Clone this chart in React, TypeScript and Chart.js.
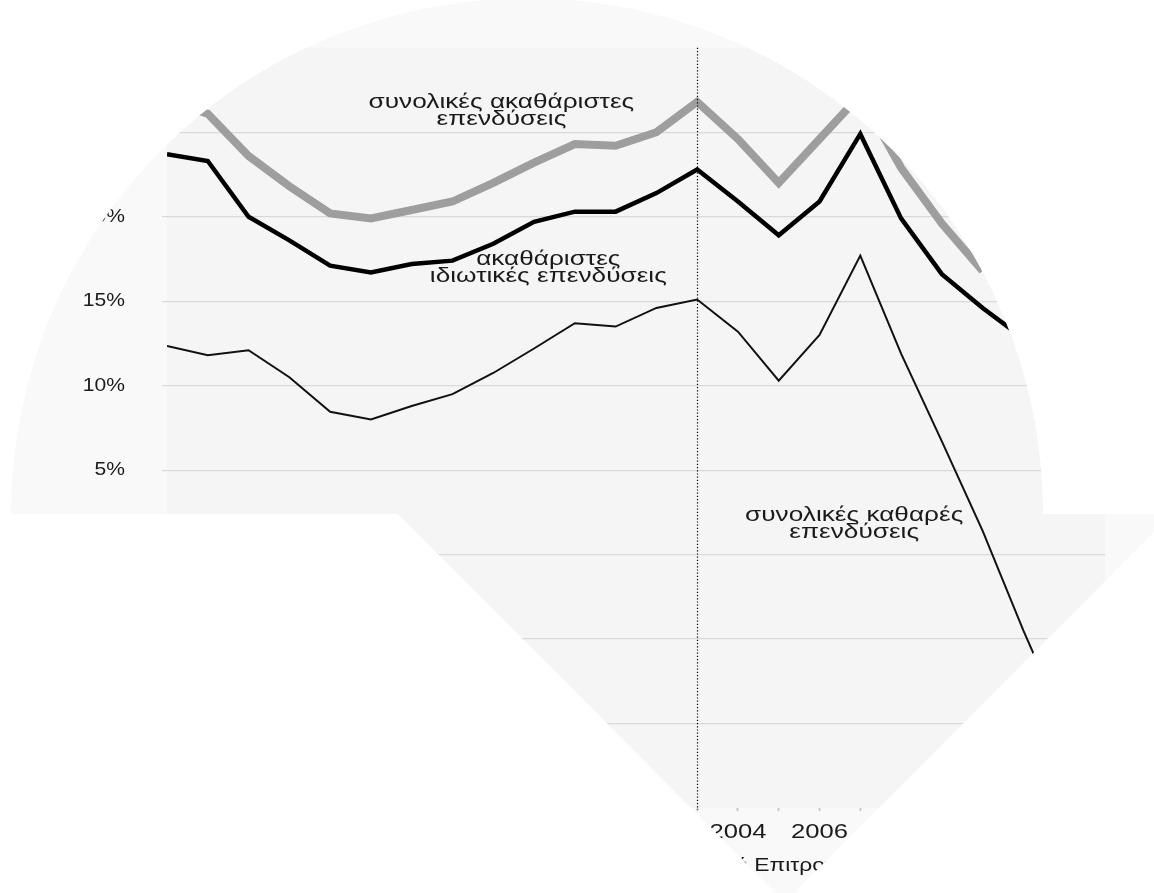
import React, { useEffect, useRef } from "react";
import { Chart, registerables } from "chart.js";

Chart.register(...registerables);

// ---- data ----
const years = [1990, 1991, 1992, 1993, 1994, 1995, 1996, 1997, 1998, 1999, 2000, 2001, 2002, 2003, 2004, 2005, 2006, 2007, 2008, 2009, 2010, 2011, 2012, 2013];
const grossTotal = [26.8, 26.1, 23.6, 21.8, 20.2, 19.9, 20.4, 20.9, 22.0, 23.2, 24.3, 24.2, 25.0, 26.8, 24.6, 22.0, 24.6, 27.2, 22.9, 19.6, 16.8, null, null, null];
const grossPrivate = [23.7, 23.3, 20.0, 18.6, 17.1, 16.7, 17.2, 17.4, 18.4, 19.7, 20.3, 20.3, 21.4, 22.8, 20.9, 18.9, 20.9, 24.9, 19.9, 16.6, 14.6, 12.8, null, null];
const netTotal = [12.35, 11.8, 12.1, 10.5, 8.45, 8.0, 8.8, 9.5, 10.75, 12.2, 13.7, 13.5, 14.6, 15.1, 13.2, 10.3, 13.0, 17.7, 11.9, 6.7, 1.4, -4.5, -10.0, null];
const seriesNames = ["συνολικές ακαθάριστες επενδύσεις", "ακαθάριστες ιδιωτικές επενδύσεις", "συνολικές καθαρές επενδύσεις"];
const yMin = -15;
const yMax = 30;
const yStep = 5;
const markerYear = 2003;
const sourceNote = ["Πηγή: Ευρωπαϊκή ", "Επιτροπή, AMECO"];

// text labels anchored in data coordinates (year, %)
const annotations = [
  { lines: ["συνολικές ακαθάριστες", "επενδύσεις"], year: 1998.2, value: 26.75 },
  { lines: ["ακαθάριστες", "ιδιωτικές επενδύσεις"], year: 1999.35, value: 17.45 },
  { lines: ["συνολικές καθαρές", "επενδύσεις"], year: 2006.85, value: 2.3 },
];

const FONT = "'Liberation Sans', Arial, Helvetica, sans-serif";
const TEXT = "#1a1a1a";

const toPoints = (vals: (number | null)[]) => years.map((y, i) => ({ x: y, y: vals[i] }));

function wideText(ctx: CanvasRenderingContext2D, text: string, x: number, y: number, size: number, align: CanvasTextAlign, sx: number) {
  ctx.save();
  ctx.font = `${size}px ${FONT}`;
  ctx.fillStyle = TEXT;
  ctx.textAlign = align;
  ctx.textBaseline = "middle";
  ctx.translate(x, y);
  ctx.scale(sx, 1);
  ctx.fillText(text, 0, 0);
  ctx.restore();
}

export default function App() {
  const ref = useRef<HTMLCanvasElement | null>(null);

  useEffect(() => {
    if (!ref.current) return;

    const bgPlugin = {
      id: "areaBg",
      beforeDraw(chart: any) {
        const { ctx, chartArea } = chart;
        ctx.save();
        ctx.fillStyle = "#f5f5f5";
        ctx.fillRect(chartArea.left, chartArea.top, chartArea.right - chartArea.left, chartArea.bottom - chartArea.top);
        ctx.restore();
      },
    };

    const overlayPlugin = {
      id: "overlay",
      afterDatasetsDraw(chart: any) {
        const { ctx, chartArea, scales } = chart;
        const xs = scales.x;
        const ys = scales.y;
        // dotted marker line
        const mx = Math.round(xs.getPixelForValue(markerYear)) + 0.5;
        ctx.save();
        ctx.strokeStyle = "#000";
        ctx.lineWidth = 1.2;
        ctx.setLineDash([1.2, 2]);
        ctx.beginPath();
        ctx.moveTo(mx, chartArea.top);
        ctx.lineTo(mx, chartArea.bottom + 2);
        ctx.stroke();
        ctx.restore();

        // annotations
        annotations.forEach((a) => {
          const cx = xs.getPixelForValue(a.year);
          const cy = ys.getPixelForValue(a.value);
          a.lines.forEach((t, i) => wideText(ctx, t, cx, cy + i * 17, 20, "center", 1.31));
        });
      },
      afterDraw(chart: any) {
        const { ctx, scales, chartArea } = chart;
        const xs = scales.x;
        const ys = scales.y;
        // y tick labels
        ys.ticks.forEach((t: any, i: number) => {
          if (!t.label) return;
          const py = ys.getPixelForTick(i);
          wideText(ctx, String(t.label), chartArea.left - 42, py, 18, "right", 1.17);
        });
        // x tick labels
        xs.ticks.forEach((t: any, i: number) => {
          if (!t.label) return;
          const px = xs.getPixelForTick(i);
          wideText(ctx, String(t.label), px, chartArea.bottom + 24, 21, "center", 1.22);
        });
        // source note
        ctx.save();
        ctx.font = `19px ${FONT}`;
        const w = ctx.measureText(sourceNote[0]).width * 1.2;
        ctx.restore();
        const anchor = xs.getPixelForValue(2004.4);
        wideText(ctx, sourceNote[0] + sourceNote[1], anchor - w, 866, 19, "left", 1.2);
      },
    };

    const chart = new Chart(ref.current, {
      type: "line",
      data: {
        datasets: [
          {
            label: seriesNames[0],
            data: toPoints(grossTotal) as any,
            borderColor: "#9e9e9e",
            borderWidth: 8,
            pointRadius: 0,
            tension: 0,
            order: 3,
          },
          {
            label: seriesNames[1],
            data: toPoints(grossPrivate) as any,
            borderColor: "#000000",
            borderWidth: 4.5,
            pointRadius: 0,
            tension: 0,
            order: 2,
          },
          {
            label: seriesNames[2],
            data: toPoints(netTotal) as any,
            borderColor: "#111111",
            borderWidth: 2,
            pointRadius: 0,
            tension: 0,
            order: 1,
          },
        ],
      },
      options: {
        animation: false,
        responsive: false,
        events: [],
        layout: { padding: { top: 46, right: 49, bottom: 45, left: 0 } },
        plugins: {
          legend: { display: false },
          tooltip: { enabled: false },
          title: { display: false },
        },
        scales: {
          x: {
            type: "linear",
            min: years[0],
            max: years[years.length - 1],
            border: { display: false },
            grid: {
              drawOnChartArea: false,
              drawTicks: true,
              tickLength: 3,
              tickColor: "#c8c8c8",
              tickWidth: 2,
            },
            ticks: {
              stepSize: 1,
              autoSkip: false,
              maxRotation: 0,
              minRotation: 0,
              padding: 8,
              color: "rgba(0,0,0,0)",
              font: { family: FONT, size: 20 },
              callback: (v: any) => (Number(v) % 2 === 0 ? String(v) : ""),
            },
            afterFit: (s: any) => {
              s.height = 40;
            },
          },
          y: {
            min: yMin,
            max: yMax,
            border: { display: false },
            grid: {
              color: (c: any) =>
                c.tick && (c.tick.value === yMin || c.tick.value === yMax) ? "rgba(0,0,0,0)" : "#d9d9d9",
              lineWidth: 1.2,
              drawTicks: true,
              tickLength: 5,
            },
            ticks: {
              stepSize: yStep,
              padding: 37,
              color: "rgba(0,0,0,0)",
              font: { family: FONT, size: 18 },
              callback: (v: any) => `${v}%`,
            },
            afterFit: (s: any) => {
              s.width = 167;
            },
          },
        },
      },
      plugins: [bgPlugin, overlayPlugin],
    });

    return () => chart.destroy();
  }, []);

  return (
    <div
      style={{
        position: "absolute",
        left: 0,
        top: 0,
        width: 1154,
        height: 893,
        background: "#f9f9f9",
        clipPath: "path('M 11 514 A 516 516 0 0 1 1043 514 L 1172 514 L 785 902 L 398 514 Z')",
      }}
    >
      <canvas ref={ref} width={1154} height={893} style={{ display: "block" }} />
    </div>
  );
}
